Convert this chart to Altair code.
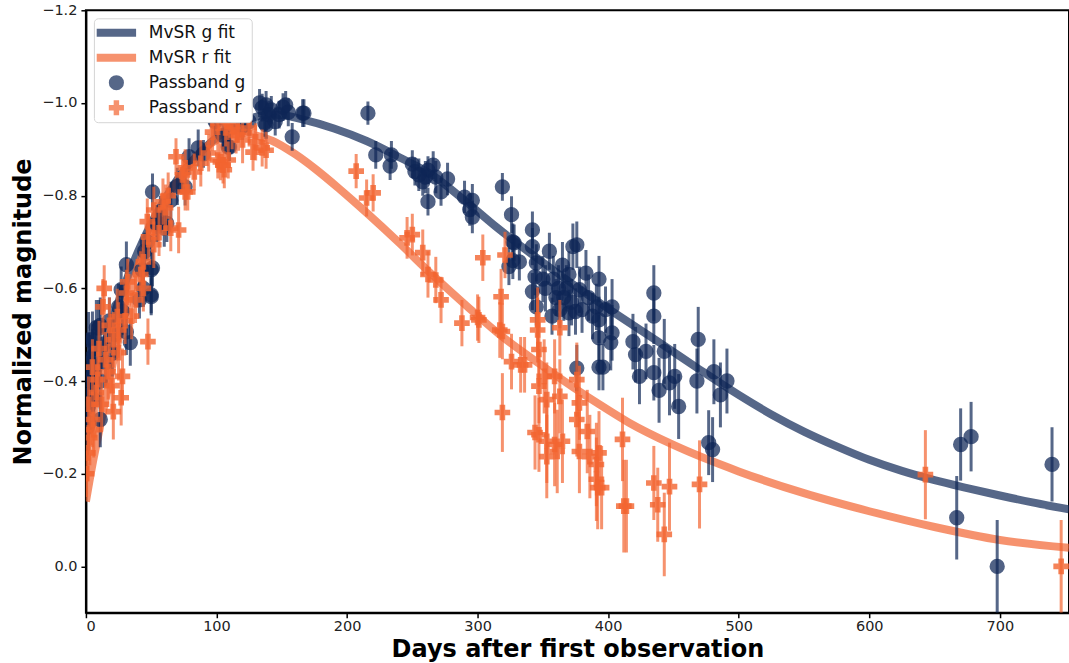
import altair as alt
import pandas as pd

# ---------------- data ----------------
G_DAY = [1, 2, 2, 1.5, 2, 4, 3, 2, 5, 5, 8, 10, 11, 11, 11, 6, 7, 14, 15, 18, 20, 22, 25, 27, 31, 31, 34, 28,
         41, 43, 44, 50, 50, 50, 51, 51, 54, 55, 60, 62, 45, 47, 57, 65, 70,
         76, 79, 86, 90, 99, 99, 105, 109, 110, 115, 120, 125,
         133, 135, 137, 138, 138, 140, 142, 145, 148, 151, 153, 155, 158, 166, 167,
         216, 222, 234, 233, 250, 252, 262, 266, 258, 262, 272, 277, 290, 296, 294, 296, 260, 255, 268,
         319, 326, 327, 327, 328, 332, 324, 342, 342, 344, 345, 342, 345, 355, 357, 360, 363, 365, 368, 370,
         373, 376, 378, 380, 383, 391, 393, 393, 393, 393, 398, 376, 350, 352, 358, 362, 366, 370, 372, 375,
         385, 388, 396,
         402, 403, 403, 419, 421, 424, 429, 435, 435, 435, 439, 443, 447, 451, 454, 469, 468, 477, 480, 481,
         486, 491,
         667, 670, 678, 698, 740]
G_MAG = [-0.30, -0.31, -0.345, -0.37, -0.403, -0.42, -0.44, -0.489, -0.453, -0.49, -0.515, -0.515, -0.52, -0.40,
         -0.317, -0.36, -0.47, -0.48, -0.44, -0.53, -0.46, -0.50, -0.56, -0.597, -0.651, -0.506, -0.483, -0.55,
         -0.575, -0.64, -0.60, -0.64, -0.582, -0.586, -0.644, -0.808, -0.74, -0.741, -0.73, -0.74, -0.68, -0.70,
         -0.76, -0.79, -0.82,
         -0.819, -0.884, -0.903, -0.89, -0.963, -0.96, -0.93, -0.905, -0.905, -0.963, -0.95, -0.96,
         -1.0, -0.99, -0.957, -0.996, -0.953, -0.975, -0.985, -0.96, -0.975, -0.991, -0.996, -0.98, -0.927,
         -0.978, -0.978,
         -0.978, -0.888, -0.888, -0.864, -0.868, -0.852, -0.855, -0.866, -0.83, -0.787, -0.808, -0.836, -0.797,
         -0.79, -0.77, -0.754, -0.84, -0.845, -0.84,
         -0.819, -0.759, -0.70, -0.66, -0.698, -0.657, -0.647, -0.726, -0.69, -0.625, -0.655, -0.593, -0.56,
         -0.68, -0.54, -0.58, -0.554, -0.65, -0.60, -0.547,
         -0.69, -0.694, -0.597, -0.554, -0.633, -0.56, -0.62, -0.532, -0.493, -0.43, -0.554, -0.428, -0.62,
         -0.60, -0.62, -0.60, -0.58, -0.63, -0.57, -0.55,
         -0.58, -0.54, -0.43,
         -0.483, -0.504, -0.56, -0.485, -0.457, -0.41, -0.464, -0.59, -0.54, -0.418, -0.38, -0.464, -0.396,
         -0.41, -0.345, -0.49, -0.40, -0.267, -0.252, -0.42,
         -0.37, -0.40,
         -0.105, -0.263, -0.28, 0.0, -0.22]
G_ERR = [0.06] * 17 + [0.05] * 11 + \
        [0.04] * 17 + \
        [0.04] * 3 + [0.03] * 9 + \
        [0.03] * 15 + \
        [0.025] + [0.03] * 10 + [0.035] * 8 + \
        [0.03] + [0.04] * 16 + [0.05] * 26 + \
        [0.06] * 10 + [0.07] * 12 + \
        [0.09, 0.078, 0.075, 0.1, 0.08]

R_DAY = [0.5, 1.5, 3, 6, 5, 8, 9, 5, 15, 21, 27, 28, 25, 21, 25, 24, 13, 31, 38, 44, 14, 32, 42, 44, 47.5,
         18, 10, 12, 2, 20, 17, 30, 35,
         48, 52, 47, 52, 59, 61, 65, 71, 69, 74, 76, 76, 78, 83, 94, 97, 101, 101, 103, 105, 106, 107, 109,
         109, 115, 117, 125, 128, 130, 135, 138, 56, 63, 88, 112, 120,
         207, 215, 220, 246, 250, 258, 262, 268, 272, 288, 300, 301, 304, 317, 318, 321, 319, 319, 326, 333,
         336, 344, 346, 346, 347, 347, 347, 351, 353, 353, 353, 359, 359, 361, 363, 363, 365, 376, 378, 376,
         378, 384, 386, 391, 391, 392, 393, 395, 411, 412, 414, 435, 438, 443, 447, 470, 643, 747]
R_MAG = [-0.20, -0.245, -0.278, -0.295, -0.317, -0.375, -0.403, -0.43, -0.446, -0.334, -0.364, -0.41, -0.461,
         -0.489, -0.51, -0.539, -0.56, -0.59, -0.575, -0.60, -0.60, -0.614, -0.63, -0.657, -0.485,
         -0.52, -0.47, -0.35, -0.35, -0.39, -0.42, -0.53, -0.54,
         -0.711, -0.694, -0.744, -0.769, -0.787, -0.774, -0.73, -0.726, -0.884, -0.845, -0.86, -0.808, -0.808,
         -0.851, -0.892, -0.937, -0.877, -0.957, -0.873, -0.866, -0.856, -0.946, -0.877, -0.96, -0.931, -0.937,
         -0.946, -0.894, -0.916, -0.903, -0.898, -0.72, -0.80, -0.87, -0.95, -0.92,
         -0.853, -0.795, -0.806, -0.709, -0.716, -0.677, -0.63, -0.618, -0.575, -0.525, -0.537, -0.532, -0.666,
         -0.51, -0.582, -0.672, -0.507, -0.332, -0.442, -0.435, -0.435, -0.289, -0.532, -0.51, -0.468, -0.389,
         -0.284, -0.41, -0.36, -0.27, -0.237, -0.41, -0.263, -0.248, -0.515, -0.367, -0.27, -0.403, -0.353,
         -0.317, -0.248, -0.291, -0.237, -0.22, -0.188, -0.17, -0.245, -0.17, -0.274, -0.13, -0.13, -0.18,
         -0.133, -0.069, -0.172, -0.177, -0.198, 0.0]
R_ERR = [0.05] + [0.06] * 16 + [0.05] * 8 + [0.06] * 6 + [0.05] * 2 + \
        [0.05] * 8 + [0.04] * 23 + [0.05] * 5 + \
        [0.037, 0.04, 0.04, 0.045, 0.045, 0.05, 0.05, 0.05, 0.05, 0.05, 0.05, 0.05, 0.05, 0.06, 0.06, 0.05,
         0.06, 0.085, 0.06, 0.06, 0.06, 0.08, 0.07, 0.07, 0.08, 0.08, 0.08, 0.08, 0.08, 0.09, 0.09, 0.08,
         0.09, 0.09, 0.06, 0.08, 0.09, 0.08, 0.08, 0.08, 0.09, 0.09, 0.09, 0.09, 0.09, 0.09, 0.09, 0.09,
         0.09, 0.1, 0.1, 0.08, 0.08, 0.09, 0.095, 0.095, 0.096, 0.1]

GFIT_DAY = [0, 10, 20, 30, 40, 50, 60, 70, 80, 90, 100, 110, 120, 130, 140, 150, 165, 190, 215, 240, 265,
            290, 314, 350, 380, 406, 441, 470, 500, 525, 550, 575, 600, 625, 650, 675, 700, 725, 753]
GFIT_MAG = [-0.31, -0.43, -0.53, -0.61, -0.68, -0.74, -0.79, -0.835, -0.87, -0.90, -0.925, -0.945, -0.96,
            -0.97, -0.975, -0.974, -0.965, -0.945, -0.918, -0.883, -0.845, -0.79, -0.733, -0.656, -0.595,
            -0.545, -0.48, -0.425, -0.37, -0.328, -0.291, -0.259, -0.23, -0.206, -0.186, -0.169, -0.153,
            -0.138, -0.123]
RFIT_DAY = [0, 5, 10, 15, 20, 25, 30, 35, 41, 50, 59, 70, 80, 90, 100, 110, 120, 130, 143, 160, 176, 194,
            215, 240, 265, 294, 317, 350, 393, 416, 450, 500, 550, 600, 650, 700, 753]
RFIT_MAG = [-0.14, -0.22, -0.29, -0.36, -0.43, -0.49, -0.55, -0.60, -0.655, -0.72, -0.775, -0.83, -0.87,
            -0.90, -0.92, -0.93, -0.935, -0.93, -0.918, -0.89, -0.857, -0.815, -0.763, -0.698, -0.63, -0.556,
            -0.50, -0.432, -0.35, -0.31, -0.262, -0.205, -0.158, -0.119, -0.085, -0.057, -0.04]

LABELS = ["MvSR g fit", "MvSR r fit", "Passband g", "Passband r"]
X_TICKS = [0, 100, 200, 300, 400, 500, 600, 700]
Y_TICKS = [-1.2, -1.0, -0.8, -0.6, -0.4, -0.2, 0.0]

G_COLOR = "#0e2656"
R_COLOR = "#f26430"
G_LINE = "#0e2656"
R_LINE = "#f26430"
LINE_SYMBOL = "M-2.6,-0.53H2.6V0.53H-2.6Z"
PLUS_SYMBOL = "M-1,-0.36H-0.36V-1H0.36V-0.36H1V0.36H0.36V1H-0.36V0.36H-1Z"

# ---------------- tables ----------------
fit_df = pd.concat([
    pd.DataFrame({"day": GFIT_DAY, "mag": GFIT_MAG, "label": LABELS[0]}),
    pd.DataFrame({"day": RFIT_DAY, "mag": RFIT_MAG, "label": LABELS[1]}),
])
g_df = pd.DataFrame({"day": G_DAY, "mag": G_MAG, "err": G_ERR[:len(G_DAY)], "label": LABELS[2]})
r_df = pd.DataFrame({"day": R_DAY, "mag": R_MAG, "err": R_ERR[:len(R_DAY)], "label": LABELS[3]})
for d in (g_df, r_df):
    d["lo"] = d["mag"] - d["err"]
    d["hi"] = d["mag"] + d["err"]

FONT = "DejaVu Sans"
xs = alt.Scale(domain=[0, 753], nice=False, zero=False)
ys = alt.Scale(domain=[-1.2, 0.1], nice=False, zero=False, reverse=True)

x_axis = alt.Axis(values=X_TICKS, format="d", title="Days after first observation", grid=False)
y_axis = alt.Axis(values=Y_TICKS, title="Normalized magnitude", grid=False,
                  labelExpr="(datum.value < -0.001 ? '\u2212' : '') + format(abs(datum.value), '.1f')")

stroke_scale = alt.Scale(domain=LABELS, range=[G_LINE, R_LINE, G_COLOR, R_COLOR])
fill_scale = alt.Scale(domain=LABELS, range=[G_LINE, R_LINE, G_COLOR, R_COLOR])
shape_scale = alt.Scale(domain=LABELS, range=[LINE_SYMBOL, LINE_SYMBOL, "circle", PLUS_SYMBOL])

legend = alt.Legend(title=None, orient="top-left", offset=8, fillColor="white", strokeColor="#d5d5d5",
                    cornerRadius=4, padding=6, labelFont=FONT, labelFontSize=17, labelColor="#111111",
                    symbolOpacity=0.7, rowPadding=7, labelOffset=24, symbolOffset=8, symbolSize=230,
                    symbolStrokeWidth=0)

lines = alt.Chart(fit_df).mark_line(strokeWidth=8, opacity=0.7, interpolate="monotone", clip=True).encode(
    x=alt.X("day:Q", scale=xs, axis=x_axis),
    y=alt.Y("mag:Q", scale=ys, axis=y_axis),
    stroke=alt.Stroke("label:N", scale=stroke_scale, legend=legend),
    detail="label:N",
)

def bars(df, color):
    return alt.Chart(df).mark_rule(strokeWidth=3, opacity=0.7, clip=True).encode(
        x="day:Q", y="lo:Q", y2="hi:Q", color=alt.value(color))

def points(df, size, opacity):
    return alt.Chart(df).mark_point(filled=True, opacity=opacity, size=size, strokeWidth=0, clip=True).encode(
        x="day:Q",
        y="mag:Q",
        fill=alt.Fill("label:N", scale=fill_scale, legend=legend),
        shape=alt.Shape("label:N", scale=shape_scale, legend=legend),
    )

chart = alt.layer(
    lines,
    bars(g_df, G_COLOR), points(g_df, 235, 0.72),
    bars(r_df, R_COLOR), points(r_df, 245, 0.8),
).properties(
    width=984, height=603,
    autosize=alt.AutoSizeParams(type="none"),
    padding={"left": 86, "top": 10, "right": 0, "bottom": 50},
).configure_view(
    stroke="black", strokeWidth=2
).configure_axis(
    domainColor="black", domainWidth=2, tickColor="black", tickWidth=1.5, tickSize=5,
    labelFont=FONT, labelFontSize=14.5, labelColor="#222222",
    titleFont=FONT, titleFontSize=24, titleFontWeight="bold", titleColor="black",
).configure_axisX(
    titlePadding=4, labelPadding=2
).configure_axisY(
    titlePadding=6, labelPadding=4
)

chart.save("out.html", embed_options={"renderer": "svg", "actions": False})
